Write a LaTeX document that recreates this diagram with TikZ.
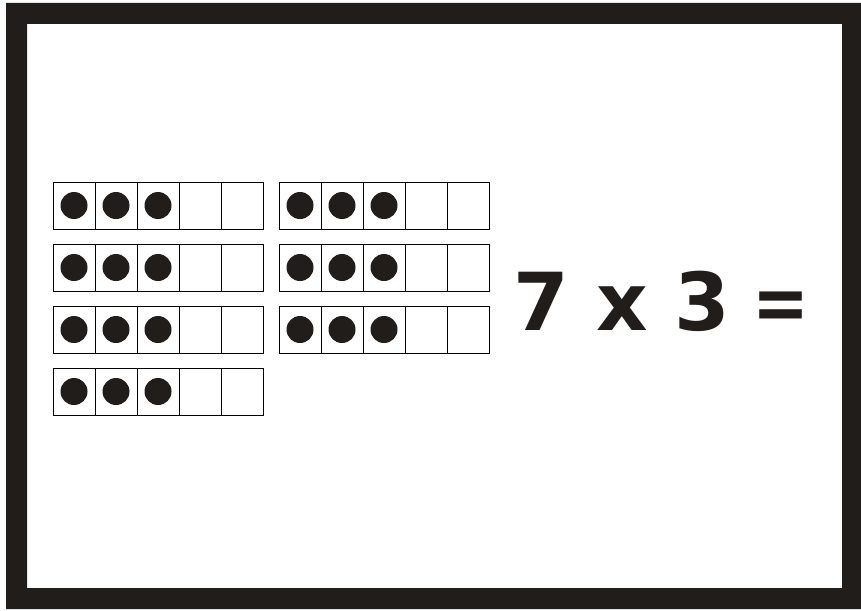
\documentclass[tikz,border=0pt]{standalone}
\usepackage{fontspec}
\newfontfamily\eqfont{DejaVu Sans}
\definecolor{framecol}{RGB}{33,29,27}

\begin{document}
\begin{tikzpicture}[x=1pt, y=-1pt,
    cell/.style={draw, line width=0.8pt, minimum width=42pt, minimum height=47pt, inner sep=0pt, outer sep=0pt},
    counter/.style={circle, fill=framecol, minimum size=27pt, inner sep=0pt},
    bigtext/.style={font=\eqfont\bfseries\fontsize{80}{80}\selectfont, inner sep=0pt, anchor=base, text=framecol}]
    \useasboundingbox (0,0) rectangle (861,610);

    % Board frame
    \fill[framecol, even odd rule] (6,3) rectangle (861,609) (27,24) rectangle (842,588);

    % Ten frames with three counters each
    \foreach \fx/\fy/\n in {53/182/1, 53/244/2, 53/306/3, 53/368/4, 279/182/5, 279/244/6, 279/306/7} {
        \foreach \k in {0,...,4}
            \node[cell] (tf\n-c\k) at (\fx+21+42*\k, \fy+23.5) {};
        \foreach \k in {0,1,2}
            \node[counter] (tf\n-d\k) at (tf\n-c\k) {};
    }

    % Equation
    \node[bigtext] (seven) at (541,330) {7};
    \node[bigtext] (times) at (622,330) {x};
    \node[bigtext] (three) at (702.5,330) {3};
    \node[bigtext, xscale=0.85] (equals) at (781,330) {=};
\end{tikzpicture}
\end{document}
